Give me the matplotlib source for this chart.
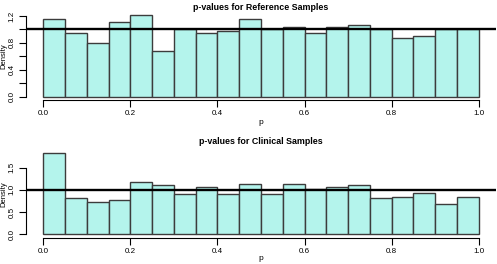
import matplotlib

matplotlib.use("Agg")
import matplotlib.pyplot as plt
import numpy as np

plt.rcParams["font.family"] = ["Liberation Sans", "DejaVu Sans"]

# histogram densities, 20 bins of width 0.05 on [0, 1]
bin_edges = np.linspace(0, 1, 21)
ref_density = [1.16, 0.95, 0.80, 1.11, 1.21, 0.68, 1.01, 0.95, 0.97, 1.16,
               1.00, 1.04, 0.95, 1.04, 1.07, 1.00, 0.87, 0.90, 1.01, 1.01]
clin_density = [1.83, 0.82, 0.73, 0.78, 1.18, 1.12, 0.91, 1.07, 0.91, 1.14,
                0.91, 1.14, 1.03, 1.07, 1.12, 0.82, 0.85, 0.94, 0.69, 0.85]

titles = ["p-values for Reference Samples", "p-values for Clinical Samples"]
x_ticks = [0.0, 0.2, 0.4, 0.6, 0.8, 1.0]
ref_yticks = [0.0, 0.2, 0.4, 0.6, 0.8, 1.0, 1.2]
ref_ylabels = ["0.0", "", "0.4", "", "0.8", "", "1.2"]
clin_yticks = [0.0, 0.5, 1.0, 1.5]
clin_ylabels = ["0.0", "0.5", "1.0", "1.5"]

W, H = 497, 264
fig = plt.figure(figsize=(W / 100, H / 100), dpi=100)

FILL = "#b4f4ec"
EDGE = "#3c3c3c"


def panel(rect, dens, title, title_y, xlab_y, yticks, ylabels, ylim):
    ax = fig.add_axes(rect)
    ax.bar(bin_edges[:-1], dens, width=0.05, align="edge",
           color=FILL, edgecolor=EDGE, linewidth=1.0, zorder=2)
    ax.axhline(1.0, color="black", linewidth=1.7, zorder=3)
    ax.set_xlim(-0.04, 1.04)
    ax.set_ylim(*ylim)
    for s in ("top", "right"):
        ax.spines[s].set_visible(False)
    ax.spines["left"].set_bounds(yticks[0], yticks[-1])
    ax.spines["bottom"].set_bounds(0, 1)
    ax.spines["left"].set_linewidth(0.8)
    ax.spines["bottom"].set_linewidth(0.8)
    ax.set_xticks(x_ticks)
    ax.set_xticklabels([f"{t:.1f}" for t in x_ticks])
    ax.set_yticks(yticks)
    ax.set_yticklabels(ylabels, rotation=90, va="center")
    ax.tick_params(axis="both", labelsize=5.8, length=5, width=0.8, pad=2.5)
    cx = rect[0] + rect[2] / 2
    cy = rect[1] + rect[3] / 2
    fig.text(cx, 1 - xlab_y / H, "p", fontsize=6, ha="center", va="center")
    fig.text(4 / W, cy, "Density", fontsize=5.5, rotation=90,
             ha="center", va="center")
    fig.text(cx, 1 - title_y / H, title, fontsize=6.4,
             fontweight="bold", ha="center", va="center")
    return ax


left = 26 / W
width = 470 / W
panel([left, 1 - 100 / H, width, 88 / H], ref_density, titles[0], 8, 123,
      ref_yticks, ref_ylabels, (-0.0484, 1.2584))
panel([left, 1 - 237.5 / H, width, 87.7 / H], clin_density, titles[1], 141, 258,
      clin_yticks, clin_ylabels, (-0.073, 1.903))

fig.savefig("out.png", dpi=100)
